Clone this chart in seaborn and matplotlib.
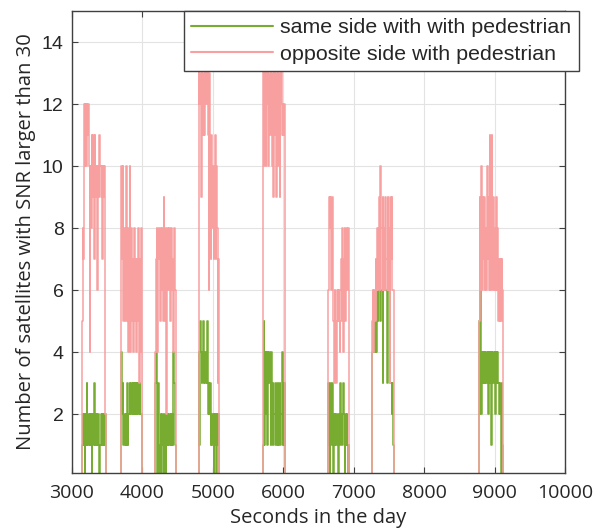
import numpy as np
import matplotlib
matplotlib.use("Agg")
import matplotlib.pyplot as plt
import seaborn as sns

# start time (s) of each burst, values are sampled every 10 s inside a burst
cluster_starts = [3140, 3690, 4180, 4790, 5710, 6640, 7260, 8780]
step = 10

# same side with pedestrian
same_1 = [1, 2, 1, 2, 0, 2, 1, 3, 1, 2, 1, 2, 1, 2, 0, 2, 1, 3, 1, 2, 1, 2, 1, 2, 1, 0, 1, 2, 1, 2, 1, 2, 1, 2]
same_2 = [1, 4, 2, 3, 1, 2, 1, 2, 1, 3, 1, 2, 2, 3, 2, 3, 2, 3, 2, 3, 2, 3, 2, 3, 2, 3, 2, 3, 2, 2, 1]
same_3 = [3, 4, 1, 0, 3, 2, 0, 1, 2, 0, 2, 1, 0, 2, 1, 0, 2, 1, 2, 1, 2, 1, 2, 1, 2, 1, 4, 3, 1]
same_4 = [0, 4, 1, 5, 4, 3, 4, 5, 3, 4, 3, 4, 3, 5, 2, 3, 2, 3, 1, 2, 1, 2, 0, 2, 1, 2, 0, 2, 1, 2]
same_5 = [1, 5, 1, 4, 2, 4, 1, 4, 3, 4, 3, 1, 4, 2, 1, 3, 2, 1, 3, 2, 1, 3, 1, 2, 3, 1, 2, 4, 1, 3, 1, 3]
same_6 = [3, 1, 0, 3, 1, 3, 2, 0, 2, 1, 2, 1, 2, 1, 0, 2, 1, 3, 2, 1, 2, 3, 1, 0, 2, 1, 2, 1, 0, 1]
same_7 = [4, 5, 4, 5, 4, 5, 4, 6, 5, 6, 6, 6, 5, 6, 6, 3, 6, 6, 6, 6, 6, 3, 6, 6, 6, 6, 3, 3, 2, 3, 1]
same_8 = [5, 2, 7, 2, 4, 3, 4, 3, 4, 3, 4, 3, 4, 2, 4, 3, 4, 1, 4, 3, 4, 3, 4, 2, 4, 3, 4, 3, 2, 3, 2, 0, 3, 1]

# opposite side with pedestrian
opp_1 = [5, 8, 7, 12, 10, 12, 10, 12, 11, 12, 10, 4, 10, 8, 11, 9, 11, 7, 11, 10, 9, 10, 6, 10, 9, 11, 10, 9, 10, 7, 10, 9, 10, 2]
opp_2 = [5, 10, 7, 10, 5, 8, 5, 8, 10, 5, 8, 4, 7, 10, 4, 8, 5, 7, 4, 8, 5, 7, 4, 7, 5, 8, 3, 7, 4, 8, 2]
opp_3 = [4, 7, 8, 4, 7, 8, 7, 5, 8, 6, 8, 5, 9, 7, 5, 8, 2, 7, 8, 6, 8, 5, 7, 8, 6, 7, 4, 8, 6]
opp_4 = [0, 14, 12, 13, 9, 14, 12, 11, 13, 11, 14, 12, 13, 14, 11, 6, 13, 10, 7, 11, 8, 10, 7, 9, 11, 7, 10, 8, 3, 7]
opp_5 = [14, 10, 13, 14, 10, 13, 12, 14, 10, 13, 11, 14, 12, 10, 13, 9, 14, 11, 13, 9, 12, 14, 10, 13, 9, 12, 14, 11, 12, 11, 12, 11]
opp_6 = [6, 9, 8, 9, 6, 9, 7, 5, 3, 6, 5, 3, 6, 5, 6, 5, 4, 6, 7, 5, 8, 4, 7, 8, 5, 7, 8, 6, 8, 1]
opp_7 = [5, 6, 4, 6, 5, 7, 6, 8, 6, 7, 9, 6, 10, 8, 6, 9, 6, 8, 6, 9, 7, 6, 9, 6, 8, 3, 9, 7, 9, 6, 6]
opp_8 = [5, 9, 6, 10, 6, 9, 7, 9, 6, 8, 6, 10, 7, 9, 6, 11, 6, 9, 11, 6, 9, 6, 8, 6, 9, 6, 8, 5, 7, 5, 7, 5, 7, 6]

same_side = [same_1, same_2, same_3, same_4, same_5, same_6, same_7, same_8]
opposite_side = [opp_1, opp_2, opp_3, opp_4, opp_5, opp_6, opp_7, opp_8]


def build_series(starts, chunks):
    """Puts the bursts on one time axis, zero satellites between them"""
    t = [3000]
    v = [0]
    for s, vals in zip(starts, chunks):
        t.extend(s + step * np.arange(len(vals)))
        v.extend(vals)
        t.append(s + step * len(vals))
        v.append(0)
    t.append(10000)
    v.append(0)
    return np.array(t), np.array(v)


t_same, v_same = build_series(cluster_starts, same_side)
t_opp, v_opp = build_series(cluster_starts, opposite_side)

sns.set_theme(style="white")
plt.rcParams["font.family"] = ["Open Sans", "DejaVu Sans"]

fig = plt.figure(figsize=(6.08, 5.31), dpi=100)
ax = fig.add_axes([72 / 608, 1 - 473 / 531, (565 - 72) / 608, (473 - 11) / 531])

sns.lineplot(x=t_same, y=v_same, ax=ax, drawstyle="steps-post", color="#77AC30",
             linewidth=1.1, label="same side with with pedestrian")
sns.lineplot(x=t_opp, y=v_opp, ax=ax, drawstyle="steps-post", color="#F8A0A0",
             linewidth=1.1, label="opposite side with pedestrian")

ax.set_xlim(3000, 10000)
ax.set_ylim(0.1, 15)
ax.set_xticks(np.arange(3000, 10001, 1000))
ax.set_yticks(np.arange(2, 15, 2))
ax.grid(True, color="#e3e3e3", linewidth=0.8)
ax.set_axisbelow(True)

for sp in ax.spines.values():
    sp.set_color("#404040")
    sp.set_linewidth(1.0)
ax.tick_params(direction="in", length=4, width=0.8, color="#404040",
               top=True, right=True, bottom=True, left=True)
ax.tick_params(axis="x", labelsize=14, labelcolor="#262626", pad=8)
ax.tick_params(axis="y", labelsize=14, labelcolor="#262626", pad=6)
for lab in ax.get_yticklabels():
    lab.set_family(["Liberation Sans", "DejaVu Sans"])

ax.set_xlabel("Seconds in the day", fontsize=14.5, color="#262626", labelpad=4)
ax.set_ylabel("Number of satellites with SNR larger than 30", fontsize=14.5,
              color="#262626", labelpad=4)

leg = ax.legend(loc="upper left", bbox_to_anchor=(184 / 608, 1 - 11 / 531),
                bbox_transform=fig.transFigure, fancybox=False, framealpha=1,
                edgecolor="#404040", borderaxespad=0, borderpad=0.35,
                labelspacing=0.35, handlelength=3.8, handletextpad=0.35,
                prop={"family": ["Liberation Sans", "DejaVu Sans"], "size": 15.4})
leg.get_frame().set_linewidth(1.0)
for line in leg.get_lines():
    line.set_linewidth(1.5)

fig.savefig("out.png", dpi=100)
